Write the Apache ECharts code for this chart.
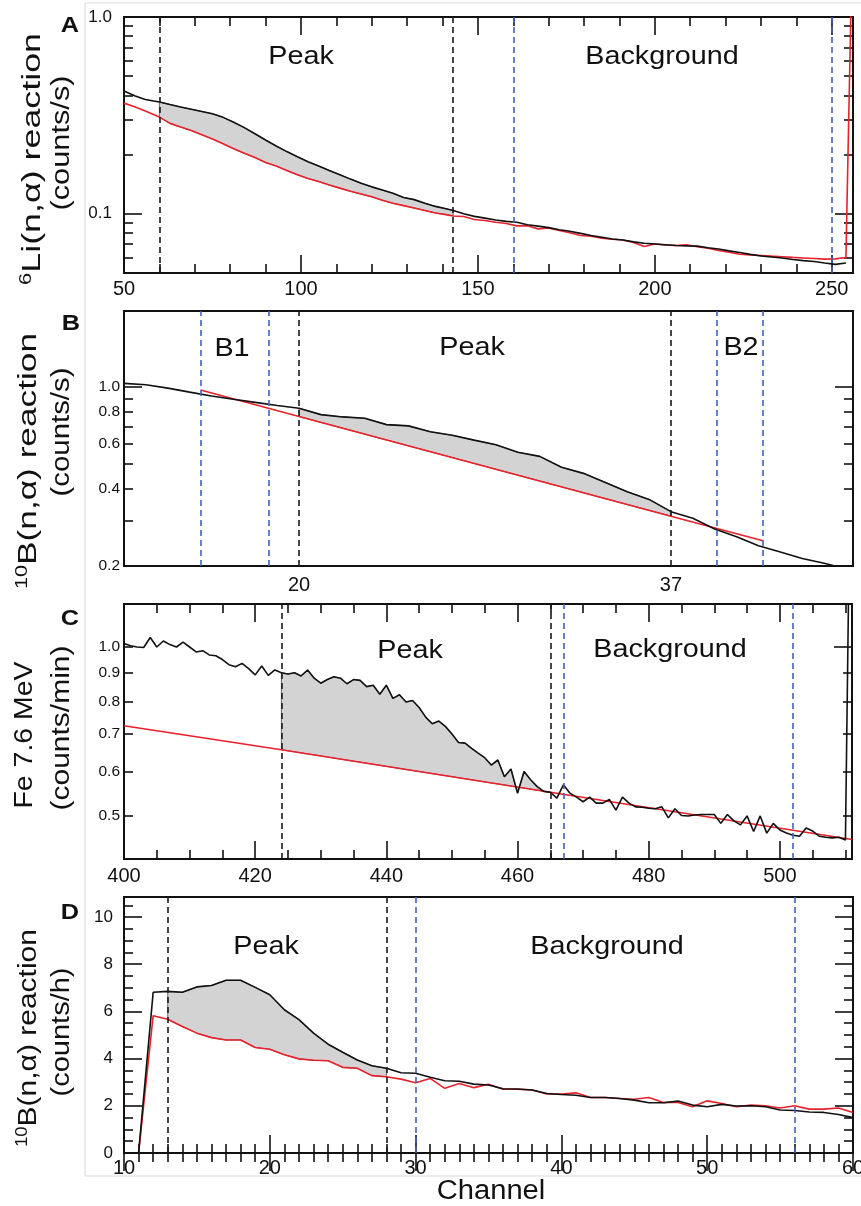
<!DOCTYPE html>
<html>
<head>
<meta charset="utf-8">
<script src="https://cdn.jsdelivr.net/npm/echarts@6/dist/echarts.min.js"></script>
<style>
  html, body { margin: 0; padding: 0; background: #fff; }
  #chart { width: 861px; height: 1206px; }
</style>
</head>
<body>
<div id="chart"></div>
<script>
// ---- panel A : 6Li(n,a), counts/s, log scale ----
const aTotal = [[50,.421],[53,.398],[56,.381],[60,.370],[63,.359],[66,.349],[69,.340],[72,.331],[75,.322],[78,.309],
  [81,.292],[84,.274],[87,.255],[90,.237],[93,.221],[96,.207],[99,.195],[102,.184],[105,.175],[108,.166],
  [111,.158],[114,.150],[117,.143],[120,.137],[123,.132],[126,.127],[129,.121],[132,.118],[135,.113],[138,.109],
  [141,.106],[143,.104],[146,.100],[149,.097],[152,.095],[155,.093],[158,.0915],[161,.0905],[164,.088],[167,.0865],
  [170,.085],[173,.083],[176,.0815],[179,.0795],[182,.0775],[185,.076],[188,.0745],[191,.0735],[194,.072],[197,.0708],
  [200,.0702],[203,.0696],[206,.069],[209,.0687],[212,.0685],[215,.0672],[218,.0662],[221,.0648],[224,.0636],[227,.0622],
  [230,.061],[233,.0603],[236,.0596],[239,.0586],[242,.0578],[245,.0572],[248,.0562],[251,.0553],[254,.0562]];
const aBackground = [[50,.365],[53,.350],[56,.333],[60,.310],[63,.288],[66,.276],[69,.265],[72,.252],[75,.240],[78,.227],
  [81,.214],[84,.203],[87,.193],[90,.182],[93,.175],[96,.166],[99,.158],[102,.151],[105,.146],[108,.140],
  [111,.135],[114,.130],[117,.126],[120,.122],[123,.117],[126,.113],[129,.110],[132,.107],[135,.104],[138,.101],
  [141,.099],[143,.0975],[146,.0968],[149,.0935],[152,.0925],[155,.0905],[158,.0892],[161,.0868],[164,.0870],[167,.0838],
  [170,.0846],[173,.0822],[176,.0800],[179,.0775],[182,.0768],[185,.0752],[188,.0742],[191,.0736],[194,.0714],[197,.0682],
  [200,.0702],[203,.0694],[206,.0690],[209,.0695],[212,.0680],[215,.0668],[218,.0650],[221,.0638],[224,.0623],[227,.0618],
  [230,.0614],[233,.0609],[236,.0605],[239,.0600],[242,.0596],[245,.0592],[248,.0588],[251,.0590],[254,.0600],[255.6,1.6]];
const aPeakLines = [60, 143];
const aBgLines = [160, 250];
const aXLabels = [50, 100, 150, 200, 250];
const aYLabels = [0.1, 1.0];

// ---- panel B : 10B(n,a), counts/s, log scale ----
const bTotal = [[12,1.033],[13,1.02],[14,0.99],[15,0.955],[16,0.922],[17,0.896],[18,0.871],[19,0.847],[20,0.826],
  [21,0.78],[22,0.764],[23,0.755],[24,0.713],[25,0.705],[26,0.669],[27,0.648],[28,0.62],[29,0.595],[30,0.556],
  [31,0.536],[32,0.486],[33,0.46],[34,0.424],[35,0.39],[36,0.364],[37,0.326],[38,0.307],[39,0.279],[40,0.26],
  [41,0.24],[42,0.227],[43,0.214],[44,0.205],[44.5,0.2],[45.3,0.19]];
const bBackground = [[15.5,0.973],[20,0.767],[37,0.313],[41.2,0.251]];
const bPeakLines = [20, 37];
const bBgLines = [15.5, 18.6, 39.1, 41.2];
const bXLabels = [20, 37];
const bYLabels = [0.2, 0.4, 0.6, 0.8, 1.0];

// ---- panel C : Fe 7.6 MeV, counts/min, log scale ----
const cTotal = [[400,1.015],[401,1.005],[402,1.0],[403,0.998],[404,1.04],[405,1.0],[406,1.025],[407,1.01],[408,1.0],[409,1.02],
  [410,1.0],[411,0.98],[412,0.985],[413,0.968],[414,0.965],[415,0.95],[416,0.93],[417,0.922],[418,0.935],[419,0.915],
  [420,0.892],[421,0.925],[422,0.89],[423,0.91],[424,0.9],[425,0.895],[426,0.9],[427,0.888],[428,0.91],[429,0.88],
  [430,0.862],[431,0.875],[432,0.885],[433,0.88],[434,0.86],[435,0.875],[436,0.872],[437,0.85],[438,0.855],[439,0.824],
  [440,0.855],[441,0.81],[442,0.822],[443,0.798],[444,0.803],[445,0.78],[446,0.75],[447,0.73],[448,0.738],[449,0.722],
  [450,0.70],[451,0.676],[452,0.674],[453,0.66],[454,0.647],[455,0.635],[456,0.616],[457,0.629],[458,0.587],[459,0.606],
  [460,0.549],[461,0.60],[462,0.58],[463,0.564],[464,0.553],[465,0.551],[466,0.538],[467,0.568],[468,0.549],[469,0.54],
  [470,0.53],[471,0.54],[472,0.527],[473,0.527],[474,0.535],[475,0.512],[476,0.54],[477,0.527],[478,0.519],[479,0.518],
  [480,0.516],[481,0.515],[482,0.519],[483,0.496],[484,0.515],[485,0.501],[486,0.5],[487,0.502],[488,0.503],[489,0.503],
  [490,0.503],[491,0.485],[492,0.503],[493,0.49],[494,0.482],[495,0.5],[496,0.469],[497,0.5],[498,0.466],[499,0.485],
  [500,0.472],[501,0.466],[502,0.462],[503,0.46],[504,0.476],[505,0.47],[506,0.46],[507,0.458],[508,0.457],[509,0.458],
  [510,0.453],[510.7,2.0]];
const cBackground = [[400,0.724],[424,0.656],[465,0.551],[511,0.454]];
const cPeakLines = [424, 465];
const cBgLines = [467, 502];
const cXLabels = [400, 420, 440, 460, 480, 500];
const cYLabels = [0.5, 0.6, 0.7, 0.8, 0.9, 1.0];

// ---- panel D : 10B(n,a), counts/h, linear ----
const dTotal = [[11,0],[12,6.81],[13,6.85],[14,6.81],[15,7.04],[16,7.1],[17,7.32],[18,7.32],[19,7.02],[20,6.71],
  [21,6.07],[22,5.65],[23,5.08],[24,4.61],[25,4.27],[26,3.94],[27,3.70],[28,3.59],[29,3.40],[30,3.38],
  [31,3.21],[32,3.06],[33,3.04],[34,2.92],[35,2.88],[36,2.72],[37,2.71],[38,2.67],[39,2.52],[40,2.48],
  [41,2.45],[42,2.35],[43,2.35],[44,2.31],[45,2.24],[46,2.13],[47,2.13],[48,2.2],[49,2.03],[50,1.96],
  [51,2.06],[52,1.99],[53,2.0],[54,1.96],[55,1.82],[56,1.80],[57,1.74],[58,1.72],[59,1.63],[60,1.50]];
const dBackground = [[11,0],[12,5.82],[13,5.67],[14,5.36],[15,5.08],[16,4.89],[17,4.79],[18,4.79],[19,4.47],[20,4.40],
  [21,4.16],[22,3.99],[23,3.93],[24,3.91],[25,3.63],[26,3.59],[27,3.28],[28,3.23],[29,3.13],[30,2.98],
  [31,3.16],[32,2.74],[33,2.95],[34,2.77],[35,2.91],[36,2.70],[37,2.70],[38,2.67],[39,2.50],[40,2.50],
  [41,2.55],[42,2.35],[43,2.35],[44,2.31],[45,2.28],[46,2.35],[47,2.14],[48,2.14],[49,1.96],[50,2.21],
  [51,2.10],[52,1.96],[53,2.03],[54,2.0],[55,1.91],[56,2.0],[57,1.86],[58,1.86],[59,1.91],[60,1.72]];
const dPeakLines = [13, 28];
const dBgLines = [30, 56];
const dXLabels = [10, 20, 30, 40, 50, 60];
const dYLabels = [0, 2, 4, 6, 8, 10];

const FONT = '"Liberation Sans", Arial, Helvetica, sans-serif';
const INK = '#111';
const RED = '#e8212a';
const BLUE = '#4262b8';
const FILL = '#d3d3d3';

// tick positions between labels (minor marks only, not data)
function steps(from, to, step, skip) {
  const out = [];
  for (let v = from; v <= to + 1e-9; v += step) {
    const r = Math.round(v * 1000) / 1000;
    if (!skip || skip.indexOf(r) < 0) out.push(r);
  }
  return out;
}
const logMinorA = [0.06, 0.07, 0.08, 0.09, 0.2, 0.3, 0.4, 0.5, 0.6, 0.7, 0.8, 0.9];
const logMinorB = [0.3, 0.4, 0.5, 0.6, 0.7, 0.8, 0.9];
const logMinorC = [0.5, 0.6, 0.7, 0.8, 0.9];

const xAxes = [], yAxes = [], series = [];

function makeAxis(gi, type, min, max, position, ticks, len, labels, fmt, font, margin) {
  return {
    gridIndex: gi, type: type, min: min, max: max, position: position, logBase: 10,
    axisLine: { show: false },
    splitLine: { show: false },
    axisTick: ticks && ticks.length
      ? { show: true, inside: true, length: len, customValues: ticks, lineStyle: { color: INK, width: 1.6 } }
      : { show: false },
    axisLabel: labels
      ? { show: true, customValues: labels, formatter: fmt, color: INK, fontSize: font, fontFamily: FONT, margin: margin }
      : { show: false }
  };
}

function peakPolygon(total, bg, range) {
  const top = total.filter(p => p[0] >= range[0] && p[0] <= range[1]);
  const bottom = bg.filter(p => p[0] >= range[0] && p[0] <= range[1]).reverse();
  return top.concat(bottom);
}

function addPanel(p) {
  const gi = p.grid;
  const xi = xAxes.length;
  xAxes.push(makeAxis(gi, 'value', p.xMin, p.xMax, 'bottom', p.xMajor, 18, p.xLabels, v => String(v), 20, p.xMargin));
  xAxes.push(makeAxis(gi, 'value', p.xMin, p.xMax, 'bottom', p.xMinor, 9));
  xAxes.push(makeAxis(gi, 'value', p.xMin, p.xMax, 'top', p.xMajor, 18));
  xAxes.push(makeAxis(gi, 'value', p.xMin, p.xMax, 'top', p.xMinor, 9));
  const yi = yAxes.length;
  yAxes.push(makeAxis(gi, p.yType, p.yMin, p.yMax, 'left', p.yLeftMajor, 18, p.yLabels, p.yFmt, p.yFont, p.yMargin));
  yAxes.push(makeAxis(gi, p.yType, p.yMin, p.yMax, 'left', p.yLeftMinor, 9));
  yAxes.push(makeAxis(gi, p.yType, p.yMin, p.yMax, 'right', p.yRightMajor, 18));
  yAxes.push(makeAxis(gi, p.yType, p.yMin, p.yMax, 'right', p.yRightMinor, 9));

  const poly = peakPolygon(p.total, p.bg, p.peak);
  series.push({
    type: 'custom', xAxisIndex: xi, yAxisIndex: yi, silent: true, z: 1,
    data: [poly[0]],
    renderItem: (params, api) => ({
      type: 'polygon',
      shape: { points: poly.map(pt => api.coord(pt)) },
      style: { fill: FILL, stroke: '#333', lineWidth: 0.7 }
    })
  });
  series.push({
    type: 'line', xAxisIndex: xi, yAxisIndex: yi, data: p.bg, showSymbol: false, symbol: 'none',
    lineStyle: { color: RED, width: 1.6 }, z: 3, silent: true
  });
  const lines = p.peak.map(x => ({ xAxis: x, lineStyle: { color: '#1a1a1a', type: [6, 4], width: 1.6 } }))
    .concat(p.bgLines.map(x => ({ xAxis: x, lineStyle: { color: BLUE, type: [6, 4], width: 1.6 } })));
  series.push({
    type: 'line', xAxisIndex: xi, yAxisIndex: yi, data: p.total, showSymbol: false, symbol: 'none',
    lineStyle: { color: INK, width: 1.6 }, z: 4, silent: true,
    markLine: { silent: true, symbol: ['none', 'none'], label: { show: false }, animation: false, data: lines }
  });
}

const fmt1 = v => Number(v).toFixed(1);

addPanel({
  grid: 0, total: aTotal, bg: aBackground, peak: aPeakLines, bgLines: aBgLines,
  xMin: 50, xMax: 256, xMajor: aXLabels, xMinor: steps(60, 250, 10, aXLabels), xLabels: aXLabels, xMargin: 6,
  yType: 'log', yMin: 0.05, yMax: 1.0, yLabels: aYLabels, yFmt: fmt1, yFont: 17, yMargin: 12,
  yLeftMajor: aYLabels, yLeftMinor: logMinorA, yRightMajor: aYLabels, yRightMinor: logMinorA
});
addPanel({
  grid: 1, total: bTotal, bg: bBackground, peak: bPeakLines, bgLines: bBgLines,
  xMin: 12, xMax: 45.32, xMajor: [], xMinor: [], xLabels: bXLabels, xMargin: 9,
  yType: 'log', yMin: 0.2, yMax: 1.98, yLabels: bYLabels, yFmt: fmt1, yFont: 15.5, yMargin: 4,
  yLeftMajor: [1.0], yLeftMinor: logMinorB, yRightMajor: [1.0], yRightMinor: logMinorB
});
addPanel({
  grid: 2, total: cTotal, bg: cBackground, peak: cPeakLines, bgLines: cBgLines,
  xMin: 400, xMax: 511, xMajor: cXLabels, xMinor: steps(405, 510, 5, cXLabels), xLabels: cXLabels, xMargin: 7,
  yType: 'log', yMin: 0.419, yMax: 1.193, yLabels: cYLabels, yFmt: fmt1, yFont: 15.5, yMargin: 4,
  yLeftMajor: [], yLeftMinor: cYLabels, yRightMajor: [1.0], yRightMinor: logMinorC
});
addPanel({
  grid: 3, total: dTotal, bg: dBackground, peak: dPeakLines, bgLines: dBgLines,
  xMin: 10, xMax: 60, xMajor: dXLabels, xMinor: steps(11, 59, 1, dXLabels), xLabels: dXLabels, xMargin: 5,
  yType: 'value', yMin: 0, yMax: 10.85, yLabels: dYLabels, yFmt: v => String(v), yFont: 17, yMargin: 11,
  yLeftMajor: dYLabels, yLeftMinor: steps(0.5, 10.5, 0.5, dYLabels), yRightMajor: dYLabels, yRightMinor: steps(0.5, 10.5, 0.5, dYLabels)
});

const gridBase = { show: true, borderColor: INK, borderWidth: 2, backgroundColor: 'transparent', containLabel: false, outerBoundsMode: 'none' };
const grids = [
  Object.assign({ left: 124, top: 17, width: 729, height: 256 }, gridBase),
  Object.assign({ left: 124, top: 311, width: 729, height: 255 }, gridBase),
  Object.assign({ left: 124, top: 604, width: 728, height: 255 }, gridBase),
  Object.assign({ left: 124, top: 897, width: 729, height: 256 }, gridBase)
];

// text helpers
const mctx = document.createElement('canvas').getContext('2d');
function textW(str, size, weight) {
  mctx.font = (weight || 'normal') + ' ' + size + 'px ' + FONT;
  return mctx.measureText(str).width;
}
function vTitle(sup, main, cx, cy, len) {
  const w = (sup ? textW(sup, 16) : 0) + textW(main, 26);
  return {
    type: 'text', x: cx, y: cy, rotation: Math.PI / 2, scaleX: len / w, silent: true,
    style: {
      text: (sup ? '{s|' + sup + '}' : '') + main, fontSize: 26, fontFamily: FONT, fill: INK,
      align: 'center', verticalAlign: 'middle',
      rich: { s: { fontSize: 16, fontFamily: FONT, fill: INK, padding: [0, 0, 12, 0] } }
    }
  };
}
function hText(str, cx, cy, size, weight, sx) {
  return {
    type: 'text', x: cx, y: cy, scaleX: sx || 1.15, silent: true,
    style: { text: str, fontSize: size, fontWeight: weight || 'normal', fontFamily: FONT, fill: INK, align: 'center', verticalAlign: 'middle' }
  };
}

const graphics = [
  { type: 'rect', silent: true, z: -10, shape: { x: 85, y: 3, width: 800, height: 1173 }, style: { fill: 'none', stroke: '#d9d9d9', lineWidth: 1 } },
  hText('A', 70, 26, 22, 'bold'), hText('B', 71, 324, 22, 'bold'), hText('C', 70, 619, 22, 'bold'), hText('D', 70, 913, 22, 'bold'),
  hText('Peak', 301, 57, 25), hText('Background', 662, 57, 25),
  hText('B1', 232, 349, 25), hText('Peak', 472, 348, 25), hText('B2', 741, 348, 25),
  hText('Peak', 410, 651, 25), hText('Background', 670, 650, 25),
  hText('Peak', 266, 947, 25), hText('Background', 607, 947, 25),
  hText('Channel', 491, 1192, 27, 'normal', 1.08),
  vTitle('6', 'Li(n,α) reaction', 33, 159, 252), vTitle('', '(counts/s)', 62, 143, 135),
  vTitle('10', 'B(n,α) reaction', 29, 461, 256), vTitle('', '(counts/s)', 62, 432, 129),
  vTitle('', 'Fe 7.6 MeV', 25, 735, 147), vTitle('', '(counts/min)', 62, 728, 165),
  vTitle('10', 'B(n,α) reaction', 29, 1038, 218), vTitle('', '(counts/h)', 62, 1032, 129)
];

const chart = echarts.init(document.getElementById('chart'), null, { renderer: 'canvas' });
chart.setOption({
  animation: false,
  backgroundColor: '#fff',
  grid: grids,
  xAxis: xAxes,
  yAxis: yAxes,
  series: series,
  graphic: graphics
});
</script>
</body>
</html>
